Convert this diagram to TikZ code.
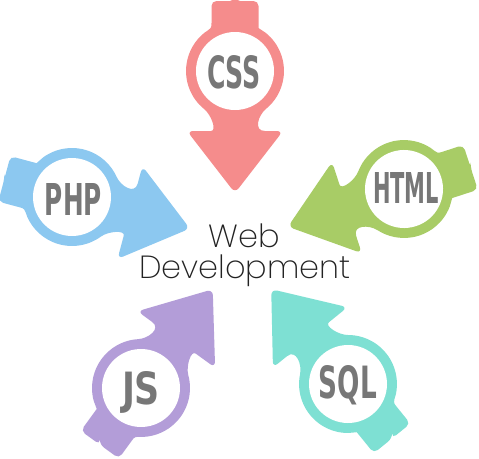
\documentclass[tikz,border=0pt]{standalone}
\usepackage{fontspec}
\newfontfamily\webfont{Poppins ExtraLight}
\newfontfamily\labfont{DejaVu Sans Condensed}
\definecolor{csscol}{HTML}{F58C8C}
\definecolor{phpcol}{HTML}{8CC8F0}
\definecolor{htmlcol}{HTML}{A8CC66}
\definecolor{jscol}{HTML}{B39DD8}
\definecolor{sqlcol}{HTML}{7EE0D3}
\definecolor{labgray}{HTML}{777777}
\definecolor{webgray}{HTML}{222222}
\newcommand\webarrow[4]{%
  \begin{scope}[shift={(#1,#2)}, rotate=#3]
    \fill[#4] (-70,0) [rounded corners=5pt] -- (-70,-23.5) -- (-48,-23.5) [sharp corners]
      .. controls (-43,-23.5) .. (-38.1,-30.8)
      arc[start angle=-141, end angle=-39, radius=49]
      .. controls (44,-23.5) and (60,-18) .. (60,-30)
      [rounded corners=6pt] -- (60,-48) -- (122,0) -- (60,48) -- (60,30) [sharp corners]
      .. controls (60,18) and (44,23.5) .. (38.1,30.8)
      arc[start angle=39, end angle=141, radius=49]
      .. controls (-43,23.5) .. (-48,23.5)
      [rounded corners=5pt] -- (-70,23.5) -- (-70,0) -- cycle;
    \fill[white] (0,0) circle[radius=39];
  \end{scope}}
\tikzset{
  lab/.style={text=labgray, inner sep=0pt, anchor=base},
  webtext/.style={text=webgray, inner sep=0pt, anchor=base, font=\webfont\fontsize{32}{32}\selectfont}
}
\begin{document}
\begin{tikzpicture}[x=1pt, y=-1pt]
  \fill[white] (0,0) rectangle (479,458);
  \useasboundingbox (0,0) rectangle (479,458);
  \webarrow{235}{71}{-90}{csscol}
  \webarrow{72}{197}{-15}{phpcol}
  \webarrow{404}{189}{-162}{htmlcol}
  \webarrow{141}{388}{54}{jscol}
  \webarrow{348}{384}{129}{sqlcol}
  \node[lab] (css) at (234,88) {\resizebox{54pt}{33pt}{\labfont\bfseries CSS}};
  \node[lab] (php) at (73.5,215) {\resizebox{57pt}{32pt}{\labfont\bfseries PHP}};
  \node[lab] (html) at (406,203) {\resizebox{66pt}{31pt}{\labfont\bfseries HTML}};
  \node[lab] (js) at (141,404) {\resizebox{38pt}{33pt}{\labfont\bfseries JS}};
  \node[lab] (sql) at (348,398) {\resizebox{58pt}{33pt}{\labfont\bfseries SQL}};
  \node[webtext] (web) at (244,247) {Web};
  \node[webtext] (dev) at (245,278) {Development};
\end{tikzpicture}
\end{document}
